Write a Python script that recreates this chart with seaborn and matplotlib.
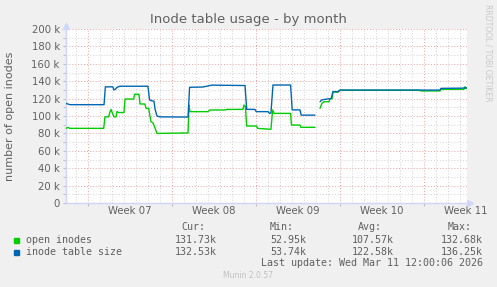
import numpy as np
import pandas as pd
import matplotlib
matplotlib.use("Agg")
import matplotlib.pyplot as plt
import seaborn as sns

# ---------------- data (days since left edge of the plot, values in thousands) ----------------
open_days = [0, 0.17, 0.33, 3.14, 3.25, 3.55, 3.65, 3.75, 3.85, 4.0, 4.17, 4.25, 4.4, 4.83,
             4.92, 5.64, 5.72, 6.08, 6.17, 6.58, 6.67, 6.89, 7.08, 7.25, 7.38, 7.58, 10.17,
             10.25, 10.33, 11.83, 12.0, 13.25, 13.42, 14.75, 14.83, 14.95, 15.06, 15.89, 15.96,
             16.25, 17.08, 17.22, 17.33, 18.72, 18.79, 19.5, 19.58, 20.75, 20.9,
             21.17, 21.33, 21.5, 21.92, 22.0, 22.17, 22.25, 22.67, 22.83, 29.5, 29.58, 31.17,
             31.25, 33.17, 33.25, 33.33, 33.42]
open_k = [85.8, 86.8, 85.8, 85.8, 99, 99, 104, 107.6, 104, 99, 99, 105, 104, 104,
          119.5, 119.5, 125, 125, 113.8, 113.8, 108.8, 108.8, 93.5, 92, 87.7, 80, 80.5,
          112.6, 105, 105, 106.9, 106.9, 107.6, 107.6, 112.6, 111, 88.5, 88.5, 85.8,
          85.5, 84.7, 106.9, 103, 103, 89.6, 89.6, 87, 87, np.nan,
          108.8, 114.5, 116.4, 116.4, 119.5, 120, 127.5, 127.5, 129.5, 129.5, 128.8, 128.8,
          130.6, 130.8, 133.6, 131.7, 131.7]

size_days = [0, 0.33, 3.17, 3.28, 3.9, 4.0, 4.1, 4.25, 4.5, 6.83, 6.95, 7.0, 7.33, 7.42,
             7.58, 7.83, 10.17, 10.3, 11.4, 12.17, 14.92, 15.06, 15.75, 15.85, 16.85, 16.95,
             17.08, 17.25, 18.72, 18.85, 19.5, 19.6, 20.75, 20.9,
             21.17, 21.33, 21.75, 22.1, 22.25, 22.67, 22.83, 31.17, 31.25, 33.0, 33.42]
size_k = [114.5, 113, 113, 133.5, 133.5, 130, 130.5, 133, 134.2, 134.2, 120, 118, 117, 108,
          100, 99, 98.8, 133, 133.3, 135.5, 135, 107.6, 107.6, 105, 105, 103,
          103.5, 135.6, 135.6, 107, 107, 101, 101, np.nan,
          116.4, 118.5, 119.5, 120, 128, 128, 129.8, 129.8, 131.8, 132, 132.5]

week_labels = ["Week 07", "Week 08", "Week 09", "Week 10", "Week 11"]
week_label_days = [5.33, 12.33, 19.33, 26.33, 33.33]
week_start_days = [1.83, 8.83, 15.83, 22.83, 29.83]
y_ticks = list(range(0, 201, 20))
y_tick_labels = ["0"] + [f"{v} k" for v in y_ticks[1:]]

series_names = ["open inodes", "inode table size"]
stat_headers = ["Cur:", "Min:", "Avg:", "Max:"]
stats_open = ["131.73k", "52.95k", "107.57k", "132.68k"]
stats_size = ["132.53k", "53.74k", "122.58k", "136.25k"]
last_update = "Last update: Wed Mar 11 12:00:06 2026"

GREEN = "#00CC00"
BLUE = "#0066B3"
FONT = "#606060"
AXIS = "#CFD6F8"

# ---------------- figure ----------------
sns.set_theme(style="white")
plt.rcParams["font.family"] = ["DejaVu Sans"]

W, H = 497, 287
fig = plt.figure(figsize=(W / 100, H / 100), dpi=100, facecolor="#F0F0F0")
left, right, top, bottom = 66, 467, 29, 203
ax = fig.add_axes([left / W, 1 - bottom / H, (right - left) / W, (bottom - top) / H])
ax.set_facecolor("white")

xmax = 33.42
ax.set_xlim(0, xmax)
ax.set_ylim(0, 200)

# grid
for v in range(10, 201, 10):
    major = v % 20 == 0
    ax.axhline(v, color="#F0A0A0" if major else "#D0D0D0", lw=0.7,
               ls=(0, (1, 2)), zorder=0)
d = 0.833
while d < xmax:
    is_major = any(abs(d - w) < 0.05 for w in week_start_days)
    ax.axvline(d, color="#F0A0A0" if is_major else "#D0D0D0", lw=0.7,
               ls=(0, (1, 2)), zorder=0)
    d += 1.0


def frame(days, vals, name):
    df = pd.DataFrame({"day": days, "value": vals})
    df["seg"] = df["value"].isna().cumsum()
    df = df.dropna()
    df["series"] = name
    return df


df_open = frame(open_days, open_k, series_names[0])
df_size = frame(size_days, size_k, series_names[1])

sns.lineplot(data=df_open, x="day", y="value", units="seg", estimator=None, sort=False,
             color=GREEN, lw=1.0, ax=ax, legend=False, zorder=3)
sns.lineplot(data=df_size, x="day", y="value", units="seg", estimator=None, sort=False,
             color=BLUE, lw=1.0, ax=ax, legend=False, zorder=4)

# axes styling
for s in ["top", "right"]:
    ax.spines[s].set_visible(False)
for s in ["left", "bottom"]:
    ax.spines[s].set_color(AXIS)
    ax.spines[s].set_linewidth(1.0)
ax.set_xlabel("")
ax.set_ylabel("")
ax.set_yticks(y_ticks)
ax.set_yticklabels(y_tick_labels)
ax.set_yticks(list(range(10, 200, 20)), minor=True)
ax.tick_params(axis="y", which="both", length=2, width=0.8, color="#C0C0C0",
               labelsize=7.3, labelcolor=FONT, pad=2.5, left=True)
ax.set_xticks(week_start_days)
ax.set_xticklabels([])
ax.tick_params(axis="x", which="major", length=2, width=0.8, color="#C0C0C0", bottom=True)
for d_, lab in zip(week_label_days, week_labels):
    ax.text(d_, -0.045, lab, transform=ax.get_xaxis_transform(), ha="center", va="center",
            fontsize=7.3, color=FONT, clip_on=False)

# arrows
ax.plot([0], [203], marker="^", ms=4, color=AXIS, clip_on=False, zorder=5)
ax.plot([xmax + 0.25], [0], marker=">", ms=4, color=AXIS, clip_on=False, zorder=5)

# texts
fig.text(248 / W, 1 - 20 / H, "Inode table usage - by month", ha="center", va="center",
         fontsize=9.5, color=FONT)
fig.text(10.5 / W, 1 - 116 / H, "number of open inodes", ha="center", va="center",
         rotation=90, fontsize=8, color=FONT)
fig.text(488 / W, 1 - 53 / H, "RRDTOOL / TOBI OETIKER", ha="center", va="center",
         rotation=270, fontsize=5.5, color="#C8C8C8")

mono = "DejaVu Sans Mono"
fs = 7.2
header_x = [181.7, 270, 358.3, 447.3]
value_right = [216.7, 306, 394, 482.7]
for hx, h in zip(header_x, stat_headers):
    fig.text(hx / W, 1 - 227.5 / H, h, ha="left", va="center", family=mono, fontsize=fs, color=FONT)
for row_y, name, col, vals in [(240, series_names[0], GREEN, stats_open),
                               (252, series_names[1], BLUE, stats_size)]:
    fig.patches.append(plt.Rectangle((14 / W, 1 - (row_y + 2.5) / H), 5 / W, 5 / H,
                                     transform=fig.transFigure, color=col, figure=fig))
    fig.text(26.5 / W, 1 - row_y / H, name, ha="left", va="center", family=mono,
             fontsize=fs, color=FONT)
    for vx, v in zip(value_right, vals):
        fig.text(vx / W, 1 - row_y / H, v, ha="right", va="center", family=mono,
                 fontsize=fs, color=FONT)
fig.text(482.7 / W, 1 - 263.5 / H, last_update, ha="right", va="center", family=mono,
         fontsize=fs, color=FONT)
fig.text(248 / W, 1 - 276 / H, "Munin 2.0.57", ha="center", va="center",
         fontsize=5.5, color="#C0C0C0")

fig.savefig("out.png", dpi=100, facecolor=fig.get_facecolor())
